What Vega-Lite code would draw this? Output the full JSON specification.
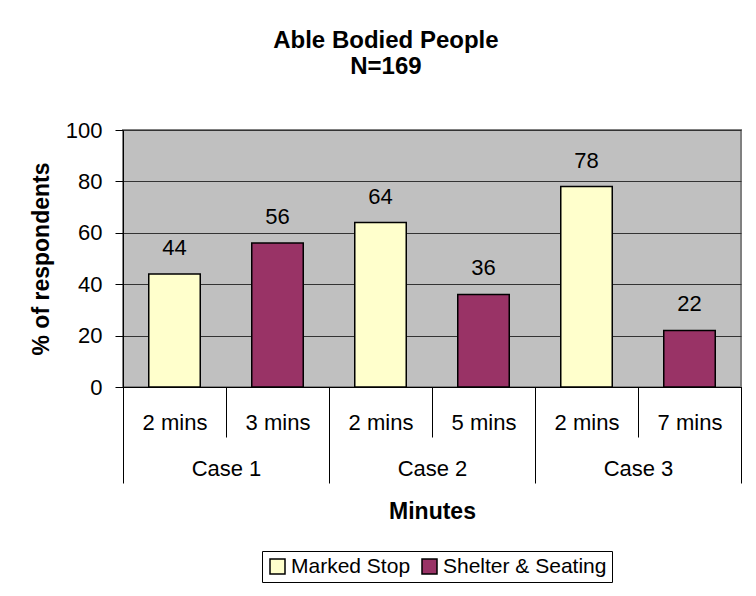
{
  "$schema": "https://vega.github.io/schema/vega-lite/v6.json",
  "description": "Able Bodied People (N=169): share of respondents preferring each option, by case and waiting time.",
  "autosize": {"type": "none"},
  "padding": {"left": 123, "top": 130, "right": 15, "bottom": 209},
  "width": 618,
  "height": 257,
  "background": "white",
  "title": {
    "text": ["Able Bodied People", "N=169"],
    "font": "Liberation Sans",
    "fontSize": 24,
    "fontWeight": "bold",
    "color": "#000000",
    "anchor": "middle",
    "frame": "bounds",
    "lineHeight": 26,
    "offset": 40
  },
  "data": {
    "values": [
      {"case": "Case 1", "minutes": "2 mins", "slot": "Case 1 / 2 mins", "series": "Marked Stop", "pct": 44},
      {"case": "Case 1", "minutes": "3 mins", "slot": "Case 1 / 3 mins", "series": "Shelter & Seating", "pct": 56},
      {"case": "Case 2", "minutes": "2 mins", "slot": "Case 2 / 2 mins", "series": "Marked Stop", "pct": 64},
      {"case": "Case 2", "minutes": "5 mins", "slot": "Case 2 / 5 mins", "series": "Shelter & Seating", "pct": 36},
      {"case": "Case 3", "minutes": "2 mins", "slot": "Case 3 / 2 mins", "series": "Marked Stop", "pct": 78},
      {"case": "Case 3", "minutes": "7 mins", "slot": "Case 3 / 7 mins", "series": "Shelter & Seating", "pct": 22}
    ]
  },
  "encoding": {
    "y": {
      "field": "pct",
      "type": "quantitative",
      "scale": {"domain": [0, 100], "nice": false, "zero": true},
      "axis": {
        "title": "% of respondents",
        "values": [0, 20, 40, 60, 80, 100],
        "tickSize": 8,
        "labelPadding": 13,
        "grid": true,
        "gridColor": "#333333",
        "gridWidth": 1,
        "titlePadding": 12
      }
    }
  },
  "layer": [
    {
      "mark": {"type": "bar", "width": {"band": 0.5}, "stroke": "#000000", "strokeWidth": 1.5},
      "encoding": {
        "x": {
          "field": "slot",
          "type": "nominal",
          "sort": null,
          "scale": {"type": "band", "paddingInner": 0, "paddingOuter": 0},
          "axis": {
            "orient": "bottom",
            "title": null,
            "labelExpr": "split(datum.value, ' / ')[1]",
            "labelAngle": 0,
            "tickBand": "extent",
            "tickSize": 50,
            "labelPadding": -15,
            "labelBaseline": "middle"
          }
        },
        "color": {
          "field": "series",
          "type": "nominal",
          "scale": {"domain": ["Marked Stop", "Shelter & Seating"], "range": ["#FFFFCC", "#993366"]},
          "legend": {
            "title": null,
            "orient": "none",
            "legendX": 139,
            "legendY": 421,
            "direction": "horizontal",
            "symbolType": "square",
            "symbolSize": 225,
            "symbolStrokeColor": "#000000",
            "symbolStrokeWidth": 1.5,
            "symbolOpacity": 1,
            "labelFont": "Liberation Sans",
            "labelFontSize": 21,
            "labelColor": "#000000",
            "labelLimit": 400,
            "labelOffset": 3,
            "columnPadding": 8,
            "padding": 5,
            "strokeColor": "#000000",
            "fillColor": "#FFFFFF"
          }
        }
      }
    },
    {
      "mark": {"type": "text", "baseline": "alphabetic", "dy": -19, "fontSize": 22, "font": "Liberation Sans", "color": "#000000"},
      "encoding": {
        "x": {
          "field": "slot",
          "type": "nominal",
          "sort": null,
          "scale": {"type": "band", "paddingInner": 0, "paddingOuter": 0},
          "axis": null
        },
        "text": {"field": "pct", "type": "quantitative"}
      }
    },
    {
      "mark": {"type": "bar", "opacity": 0},
      "encoding": {
        "x": {
          "field": "case",
          "type": "nominal",
          "sort": null,
          "scale": {"type": "band", "paddingInner": 0, "paddingOuter": 0},
          "axis": {
            "orient": "bottom",
            "title": "Minutes",
            "labelAngle": 0,
            "tickBand": "extent",
            "tickSize": 96,
            "labelPadding": -15,
            "labelBaseline": "middle",
            "titlePadding": 17
          }
        }
      }
    }
  ],
  "resolve": {"scale": {"x": "independent"}, "axis": {"x": "independent"}},
  "config": {
    "font": "Liberation Sans",
    "view": {"fill": "#C0C0C0", "stroke": "#808080", "strokeWidth": 2},
    "axis": {
      "labelFont": "Liberation Sans",
      "titleFont": "Liberation Sans",
      "labelColor": "#000000",
      "titleColor": "#000000",
      "domainColor": "#000000",
      "tickColor": "#000000",
      "domainWidth": 1,
      "tickWidth": 1,
      "labelFontSize": 22,
      "titleFontSize": 23,
      "titleFontWeight": "bold",
      "grid": false
    }
  }
}
